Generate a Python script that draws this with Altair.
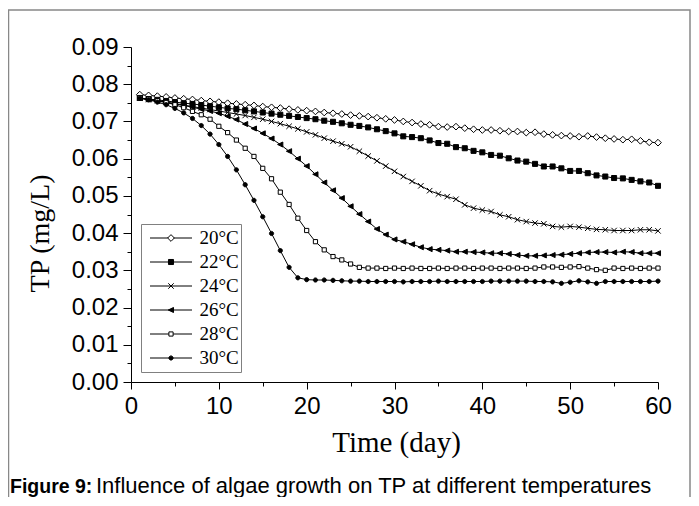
import altair as alt
import pandas as pd

days = list(range(1, 61))
labels = ["20°C", "22°C", "24°C", "26°C", "28°C", "30°C"]
keys = ["t20", "t22", "t24", "t26", "t28", "t30"]

tp_20 = [0.0772, 0.0770, 0.0768, 0.0766, 0.0763, 0.0761, 0.0759, 0.0756, 0.0754, 0.0752,
         0.0749, 0.0747, 0.0745, 0.0743, 0.0740, 0.0738, 0.0736, 0.0733, 0.0731, 0.0729,
         0.0727, 0.0724, 0.0722, 0.0720, 0.0717, 0.0715, 0.0713, 0.0710, 0.0707, 0.0704,
         0.0700, 0.0697, 0.0693, 0.0691, 0.0686, 0.0685, 0.0686, 0.0682, 0.0679, 0.0677,
         0.0677, 0.0675, 0.0673, 0.0673, 0.0670, 0.0671, 0.0666, 0.0664, 0.0662, 0.0661,
         0.0659, 0.0661, 0.0658, 0.0655, 0.0653, 0.0651, 0.0652, 0.0648, 0.0644, 0.0643]
tp_22 = [0.0763, 0.0760, 0.0758, 0.0755, 0.0752, 0.0749, 0.0747, 0.0744, 0.0741, 0.0738,
         0.0735, 0.0733, 0.0730, 0.0727, 0.0724, 0.0721, 0.0718, 0.0715, 0.0712, 0.0709,
         0.0706, 0.0702, 0.0699, 0.0695, 0.0691, 0.0688, 0.0684, 0.0679, 0.0674, 0.0668,
         0.0660, 0.0658, 0.0655, 0.0649, 0.0642, 0.0640, 0.0631, 0.0628, 0.0621, 0.0617,
         0.0610, 0.0608, 0.0601, 0.0595, 0.0592, 0.0586, 0.0579, 0.0579, 0.0574, 0.0567,
         0.0567, 0.0561, 0.0555, 0.0552, 0.0548, 0.0547, 0.0543, 0.0539, 0.0536, 0.0527]
tp_24 = [0.0763, 0.0759, 0.0756, 0.0752, 0.0748, 0.0744, 0.0740, 0.0736, 0.0732, 0.0728,
         0.0724, 0.0720, 0.0716, 0.0711, 0.0706, 0.0700, 0.0694, 0.0687, 0.0680, 0.0672,
         0.0664, 0.0655, 0.0647, 0.0640, 0.0632, 0.0620, 0.0607, 0.0594, 0.0580, 0.0566,
         0.0552, 0.0539, 0.0527, 0.0514, 0.0505, 0.0498, 0.0491, 0.0476, 0.0467, 0.0462,
         0.0458, 0.0449, 0.0444, 0.0436, 0.0431, 0.0427, 0.0425, 0.0418, 0.0416, 0.0418,
         0.0416, 0.0413, 0.0410, 0.0409, 0.0407, 0.0407, 0.0407, 0.0409, 0.0409, 0.0406]
tp_26 = [0.0763, 0.0759, 0.0755, 0.0751, 0.0747, 0.0743, 0.0738, 0.0733, 0.0728, 0.0722,
         0.0714, 0.0705, 0.0693, 0.0681, 0.0668, 0.0654, 0.0638, 0.0620, 0.0600, 0.0580,
         0.0558, 0.0536, 0.0515, 0.0494, 0.0472, 0.0451, 0.0431, 0.0411, 0.0396, 0.0383,
         0.0377, 0.0370, 0.0362, 0.0357, 0.0355, 0.0353, 0.0350, 0.0350, 0.0349, 0.0348,
         0.0346, 0.0346, 0.0344, 0.0341, 0.0339, 0.0339, 0.0340, 0.0341, 0.0342, 0.0344,
         0.0346, 0.0348, 0.0349, 0.0349, 0.0348, 0.0350, 0.0349, 0.0346, 0.0346, 0.0346]
tp_28 = [0.0763, 0.0760, 0.0756, 0.0751, 0.0745, 0.0737, 0.0727, 0.0718, 0.0706, 0.0687,
         0.0670, 0.0650, 0.0628, 0.0606, 0.0574, 0.0546, 0.0510, 0.0477, 0.0440, 0.0407,
         0.0377, 0.0355, 0.0337, 0.0328, 0.0317, 0.0308, 0.0306, 0.0306, 0.0305, 0.0306,
         0.0305, 0.0306, 0.0305, 0.0305, 0.0306, 0.0305, 0.0306, 0.0306, 0.0305, 0.0306,
         0.0306, 0.0305, 0.0306, 0.0306, 0.0305, 0.0306, 0.0309, 0.0309, 0.0308, 0.0309,
         0.0310, 0.0306, 0.0302, 0.0300, 0.0306, 0.0305, 0.0306, 0.0305, 0.0306, 0.0306]
tp_30 = [0.0762, 0.0758, 0.0752, 0.0745, 0.0735, 0.0723, 0.0708, 0.0689, 0.0666, 0.0638,
         0.0606, 0.0570, 0.0530, 0.0488, 0.0444, 0.0399, 0.0353, 0.0308, 0.0280, 0.0275,
         0.0274, 0.0274, 0.0273, 0.0272, 0.0271, 0.0271, 0.0270, 0.0270, 0.0270, 0.0270,
         0.0269, 0.0270, 0.0270, 0.0270, 0.0271, 0.0270, 0.0270, 0.0270, 0.0270, 0.0270,
         0.0271, 0.0271, 0.0271, 0.0271, 0.0271, 0.0270, 0.0270, 0.0269, 0.0265, 0.0268,
         0.0272, 0.0269, 0.0265, 0.0270, 0.0270, 0.0270, 0.0270, 0.0270, 0.0270, 0.0271]
series_values = [tp_20, tp_22, tp_24, tp_26, tp_28, tp_30]

x_ticks = [0, 5, 10, 15, 20, 25, 30, 35, 40, 45, 50, 55, 60]
y_ticks = [round(i * 0.005, 3) for i in range(19)]

caption_bold = "Figure 9:"
caption_text = "Influence of algae growth on TP at different temperatures"

rows = []
for lab, key, vals in zip(labels, keys, series_values):
    for d, v in zip(days, vals):
        rows.append({"day": d, "tp": v, "series": lab, "key": key})
df = pd.DataFrame(rows)

# marker paths (unit coords, scaled by sqrt(size)/2 = 21 px)
shape_paths = [
    "M0,-0.16L0.16,0L0,0.16L-0.16,0Z",
    "M-0.12,-0.12L0.12,-0.12L0.12,0.12L-0.12,0.12Z",
    "M-0.13,-0.13L0.13,0.13M-0.13,0.13L0.13,-0.13",
    "M-0.13,0L0.12,-0.12L0.12,0.12Z",
    "M-0.1,-0.1L0.1,-0.1L0.1,0.1L-0.1,0.1Z",
    "M0.1,0A0.1,0.1,0,1,1,-0.1,0A0.1,0.1,0,1,1,0.1,0Z",
]
fill_colors = ["white", "black", "black", "black", "white", "black"]

SYM = 1764

xaxis = alt.Axis(
    values=x_ticks,
    labelExpr="datum.value % 10 == 0 ? datum.label : ''",
    tickSize={"condition": {"test": "datum.value % 10 == 0", "value": 7}, "value": 4},
    title="Time (day)", titleFont="Liberation Serif", titleFontSize=29,
    titleFontWeight="normal", titleX=265, titleY=69, titleBaseline="alphabetic",
    titleAlign="center", titleColor="black",
    labelFont="Liberation Sans", labelFontSize=24, labelPadding=5, labelColor="black",
    labelFlush=False, labelOverlap=False, grid=False,
    domainColor="black", domainWidth=1, tickColor="black", tickWidth=1,
)
yaxis = alt.Axis(
    values=y_ticks,
    labelExpr="round(datum.value*200) % 2 == 0 ? format(datum.value, '.2f') : ''",
    tickSize={"condition": {"test": "round(datum.value*200) % 2 == 0", "value": 8}, "value": 4},
    title="TP (mg/L)", titleFont="Liberation Serif", titleFontSize=28,
    titleFontWeight="normal", titleX=-83, titleY=186, titleAngle=270,
    titleBaseline="alphabetic", titleAlign="center", titleColor="black",
    labelFont="Liberation Sans", labelFontSize=24, labelPadding=5, labelColor="black",
    labelFlush=False, labelOverlap=False, grid=False,
    domainColor="black", domainWidth=1, tickColor="black", tickWidth=1,
)

X = alt.X("day:Q", scale=alt.Scale(domain=[0, 60], nice=False, zero=False), axis=xaxis)
Y = alt.Y("tp:Q", scale=alt.Scale(domain=[0, 0.09], nice=False), axis=yaxis)

leg_common = dict(
    orient="none", legendX=10, legendY=177, title=None, padding=2, rowPadding=0,
    clipHeight=24,
    labelFont="Liberation Serif", labelFontSize=19, labelOffset=7, symbolOffset=6.5,
    symbolSize=SYM, symbolStrokeWidth=1, labelLimit=200,
)
line_legend = alt.Legend(symbolType="stroke", labelColor="black", fillColor="white",
                         strokeColor="#808080", **leg_common)
point_legend = alt.Legend(labelExpr="''", **leg_common)

lines = alt.Chart(df).mark_line(strokeWidth=1).encode(
    x=X, y=Y,
    color=alt.Color("series:N", scale=alt.Scale(domain=labels, range=["black"] * 6),
                    legend=line_legend),
)

points = alt.Chart(df).mark_point(filled=True, size=SYM, strokeWidth=1, opacity=1).encode(
    x=X, y=Y,
    shape=alt.Shape("key:N", scale=alt.Scale(domain=keys, range=shape_paths),
                    legend=point_legend),
    fill=alt.Fill("key:N", scale=alt.Scale(domain=keys, range=fill_colors),
                  legend=point_legend),
    stroke=alt.Stroke("key:N", scale=alt.Scale(domain=keys, range=["black"] * 6),
                      legend=point_legend),
)

one = alt.Data(values=[{"a": 1}])
frame = alt.Chart(one).mark_rect(fill="white", fillOpacity=0, stroke="#888888",
                                 strokeWidth=1.5).encode(
    x=alt.value(-122.5), x2=alt.value(559), y=alt.value(-37), y2=alt.value(460)
)
cap1 = alt.Chart(one).mark_text(
    text=caption_bold, font="Liberation Sans", fontSize=19.5, fontWeight="bold",
    align="left", baseline="alphabetic", color="black"
).encode(x=alt.value(10 - 131), y=alt.value(493 - 47))
cap2 = alt.Chart(one).mark_text(
    text=caption_text, font="Liberation Sans", fontSize=22,
    align="left", baseline="alphabetic", color="black"
).encode(x=alt.value(96 - 131), y=alt.value(493 - 47))

chart = alt.layer(frame, lines, points, cap1, cap2).properties(
    width=527, height=335,
    autosize=alt.AutoSizeParams(type="none"),
    padding={"left": 123, "top": 39, "right": 33, "bottom": 115},
    background="white",
).configure_view(stroke=None)

chart.save("out.html", embed_options={"renderer": "svg", "actions": False})
